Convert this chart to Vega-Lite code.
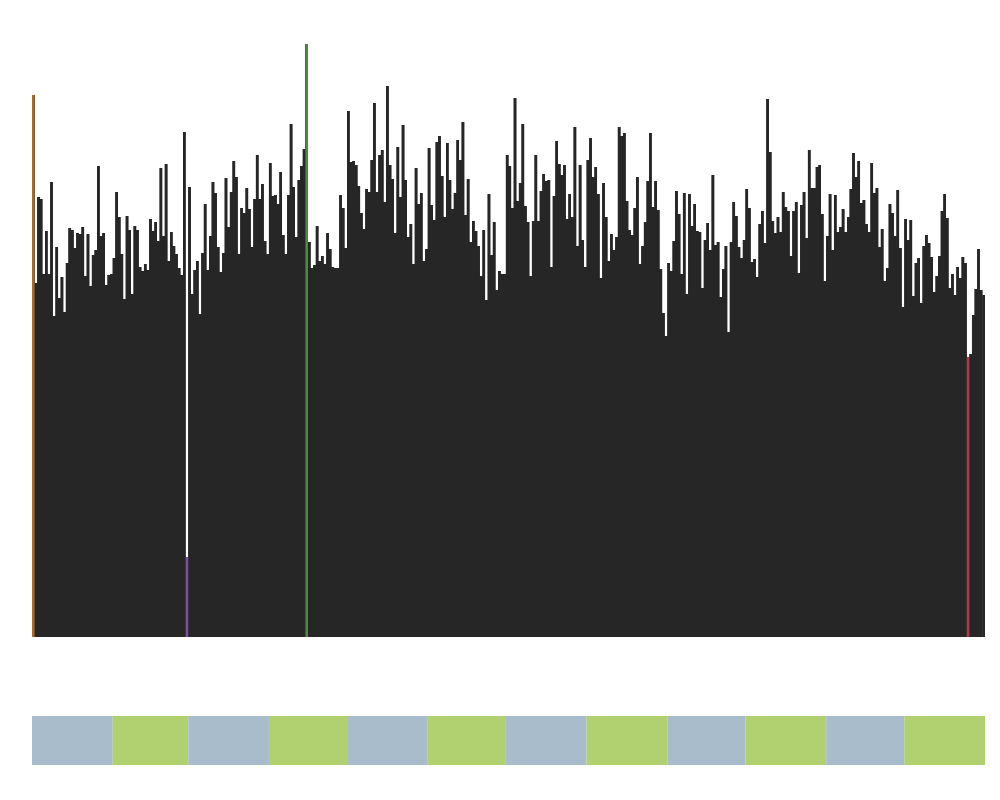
{
  "$schema": "https://vega.github.io/schema/vega-lite/v6.json",
  "background": "white",
  "padding": {"left": 32, "top": 40, "right": 15, "bottom": 35},
  "spacing": 79,
  "config": {"view": {"stroke": null}},
  "resolve": {"scale": {"fill": "independent"}},
  "datasets": {
    "days": [
      {"d":0,"e":1,"m":1,"v":542,"h":"jan1"},{"d":1,"e":2,"m":1,"v":354,"h":"n"},{"d":2,"e":3,"m":1,"v":440,"h":"n"},{"d":3,"e":4,"m":1,"v":438,"h":"n"},{"d":4,"e":5,"m":1,"v":363,"h":"n"},{"d":5,"e":6,"m":1,"v":406,"h":"n"},{"d":6,"e":7,"m":1,"v":363,"h":"n"},{"d":7,"e":8,"m":1,"v":455,"h":"n"},{"d":8,"e":9,"m":1,"v":321,"h":"n"},{"d":9,"e":10,"m":1,"v":390,"h":"n"},
      {"d":10,"e":11,"m":1,"v":339,"h":"n"},{"d":11,"e":12,"m":1,"v":360,"h":"n"},{"d":12,"e":13,"m":1,"v":325,"h":"n"},{"d":13,"e":14,"m":1,"v":374,"h":"n"},{"d":14,"e":15,"m":1,"v":409,"h":"n"},{"d":15,"e":16,"m":1,"v":407,"h":"n"},{"d":16,"e":17,"m":1,"v":389,"h":"n"},{"d":17,"e":18,"m":1,"v":404,"h":"n"},{"d":18,"e":19,"m":1,"v":403,"h":"n"},{"d":19,"e":20,"m":1,"v":410,"h":"n"},
      {"d":20,"e":21,"m":1,"v":361,"h":"n"},{"d":21,"e":22,"m":1,"v":403,"h":"n"},{"d":22,"e":23,"m":1,"v":351,"h":"n"},{"d":23,"e":24,"m":1,"v":382,"h":"n"},{"d":24,"e":25,"m":1,"v":387,"h":"n"},{"d":25,"e":26,"m":1,"v":471,"h":"n"},{"d":26,"e":27,"m":1,"v":401,"h":"n"},{"d":27,"e":28,"m":1,"v":404,"h":"n"},{"d":28,"e":29,"m":1,"v":352,"h":"n"},{"d":29,"e":30,"m":1,"v":362,"h":"n"},
      {"d":30,"e":31,"m":1,"v":363,"h":"n"},{"d":31,"e":32,"m":2,"v":379,"h":"n"},{"d":32,"e":33,"m":2,"v":445,"h":"n"},{"d":33,"e":34,"m":2,"v":420,"h":"n"},{"d":34,"e":35,"m":2,"v":383,"h":"n"},{"d":35,"e":36,"m":2,"v":338,"h":"n"},{"d":36,"e":37,"m":2,"v":421,"h":"n"},{"d":37,"e":38,"m":2,"v":407,"h":"n"},{"d":38,"e":39,"m":2,"v":343,"h":"n"},{"d":39,"e":40,"m":2,"v":411,"h":"n"},
      {"d":40,"e":41,"m":2,"v":407,"h":"n"},{"d":41,"e":42,"m":2,"v":370,"h":"n"},{"d":42,"e":43,"m":2,"v":366,"h":"n"},{"d":43,"e":44,"m":2,"v":373,"h":"n"},{"d":44,"e":45,"m":2,"v":367,"h":"n"},{"d":45,"e":46,"m":2,"v":418,"h":"n"},{"d":46,"e":47,"m":2,"v":406,"h":"n"},{"d":47,"e":48,"m":2,"v":415,"h":"n"},{"d":48,"e":49,"m":2,"v":396,"h":"n"},{"d":49,"e":50,"m":2,"v":469,"h":"n"},
      {"d":50,"e":51,"m":2,"v":401,"h":"n"},{"d":51,"e":52,"m":2,"v":473,"h":"n"},{"d":52,"e":53,"m":2,"v":376,"h":"n"},{"d":53,"e":54,"m":2,"v":405,"h":"n"},{"d":54,"e":55,"m":2,"v":391,"h":"n"},{"d":55,"e":56,"m":2,"v":383,"h":"n"},{"d":56,"e":57,"m":2,"v":369,"h":"n"},{"d":57,"e":58,"m":2,"v":362,"h":"n"},{"d":58,"e":59,"m":2,"v":505,"h":"n"},{"d":59,"e":60,"m":2,"v":80,"h":"feb29"},
      {"d":60,"e":61,"m":3,"v":450,"h":"n"},{"d":61,"e":62,"m":3,"v":343,"h":"n"},{"d":62,"e":63,"m":3,"v":367,"h":"n"},{"d":63,"e":64,"m":3,"v":376,"h":"n"},{"d":64,"e":65,"m":3,"v":323,"h":"n"},{"d":65,"e":66,"m":3,"v":384,"h":"n"},{"d":66,"e":67,"m":3,"v":433,"h":"n"},{"d":67,"e":68,"m":3,"v":367,"h":"n"},{"d":68,"e":69,"m":3,"v":401,"h":"n"},{"d":69,"e":70,"m":3,"v":455,"h":"n"},
      {"d":70,"e":71,"m":3,"v":444,"h":"n"},{"d":71,"e":72,"m":3,"v":390,"h":"n"},{"d":72,"e":73,"m":3,"v":365,"h":"n"},{"d":73,"e":74,"m":3,"v":384,"h":"n"},{"d":74,"e":75,"m":3,"v":459,"h":"n"},{"d":75,"e":76,"m":3,"v":410,"h":"n"},{"d":76,"e":77,"m":3,"v":445,"h":"n"},{"d":77,"e":78,"m":3,"v":476,"h":"n"},{"d":78,"e":79,"m":3,"v":460,"h":"n"},{"d":79,"e":80,"m":3,"v":383,"h":"n"},
      {"d":80,"e":81,"m":3,"v":429,"h":"n"},{"d":81,"e":82,"m":3,"v":424,"h":"n"},{"d":82,"e":83,"m":3,"v":449,"h":"n"},{"d":83,"e":84,"m":3,"v":428,"h":"n"},{"d":84,"e":85,"m":3,"v":390,"h":"n"},{"d":85,"e":86,"m":3,"v":438,"h":"n"},{"d":86,"e":87,"m":3,"v":482,"h":"n"},{"d":87,"e":88,"m":3,"v":438,"h":"n"},{"d":88,"e":89,"m":3,"v":453,"h":"n"},{"d":89,"e":90,"m":3,"v":396,"h":"n"},
      {"d":90,"e":91,"m":3,"v":383,"h":"n"},{"d":91,"e":92,"m":4,"v":474,"h":"n"},{"d":92,"e":93,"m":4,"v":441,"h":"n"},{"d":93,"e":94,"m":4,"v":442,"h":"n"},{"d":94,"e":95,"m":4,"v":433,"h":"n"},{"d":95,"e":96,"m":4,"v":465,"h":"n"},{"d":96,"e":97,"m":4,"v":402,"h":"n"},{"d":97,"e":98,"m":4,"v":383,"h":"n"},{"d":98,"e":99,"m":4,"v":442,"h":"n"},{"d":99,"e":100,"m":4,"v":513,"h":"n"},
      {"d":100,"e":101,"m":4,"v":450,"h":"n"},{"d":101,"e":102,"m":4,"v":400,"h":"n"},{"d":102,"e":103,"m":4,"v":457,"h":"n"},{"d":103,"e":104,"m":4,"v":471,"h":"n"},{"d":104,"e":105,"m":4,"v":488,"h":"n"},{"d":105,"e":106,"m":4,"v":593,"h":"apr15"},{"d":106,"e":107,"m":4,"v":395,"h":"n"},{"d":107,"e":108,"m":4,"v":369,"h":"n"},{"d":108,"e":109,"m":4,"v":372,"h":"n"},{"d":109,"e":110,"m":4,"v":411,"h":"n"},
      {"d":110,"e":111,"m":4,"v":376,"h":"n"},{"d":111,"e":112,"m":4,"v":381,"h":"n"},{"d":112,"e":113,"m":4,"v":373,"h":"n"},{"d":113,"e":114,"m":4,"v":404,"h":"n"},{"d":114,"e":115,"m":4,"v":388,"h":"n"},{"d":115,"e":116,"m":4,"v":370,"h":"n"},{"d":116,"e":117,"m":4,"v":369,"h":"n"},{"d":117,"e":118,"m":4,"v":369,"h":"n"},{"d":118,"e":119,"m":4,"v":442,"h":"n"},{"d":119,"e":120,"m":4,"v":429,"h":"n"},
      {"d":120,"e":121,"m":4,"v":389,"h":"n"},{"d":121,"e":122,"m":5,"v":526,"h":"n"},{"d":122,"e":123,"m":5,"v":475,"h":"n"},{"d":123,"e":124,"m":5,"v":476,"h":"n"},{"d":124,"e":125,"m":5,"v":472,"h":"n"},{"d":125,"e":126,"m":5,"v":451,"h":"n"},{"d":126,"e":127,"m":5,"v":424,"h":"n"},{"d":127,"e":128,"m":5,"v":408,"h":"n"},{"d":128,"e":129,"m":5,"v":448,"h":"n"},{"d":129,"e":130,"m":5,"v":445,"h":"n"},
      {"d":130,"e":131,"m":5,"v":477,"h":"n"},{"d":131,"e":132,"m":5,"v":534,"h":"n"},{"d":132,"e":133,"m":5,"v":445,"h":"n"},{"d":133,"e":134,"m":5,"v":482,"h":"n"},{"d":134,"e":135,"m":5,"v":487,"h":"n"},{"d":135,"e":136,"m":5,"v":435,"h":"n"},{"d":136,"e":137,"m":5,"v":551,"h":"n"},{"d":137,"e":138,"m":5,"v":472,"h":"n"},{"d":138,"e":139,"m":5,"v":458,"h":"n"},{"d":139,"e":140,"m":5,"v":404,"h":"n"},
      {"d":140,"e":141,"m":5,"v":490,"h":"n"},{"d":141,"e":142,"m":5,"v":440,"h":"n"},{"d":142,"e":143,"m":5,"v":512,"h":"n"},{"d":143,"e":144,"m":5,"v":457,"h":"n"},{"d":144,"e":145,"m":5,"v":400,"h":"n"},{"d":145,"e":146,"m":5,"v":413,"h":"n"},{"d":146,"e":147,"m":5,"v":373,"h":"n"},{"d":147,"e":148,"m":5,"v":469,"h":"n"},{"d":148,"e":149,"m":5,"v":433,"h":"n"},{"d":149,"e":150,"m":5,"v":444,"h":"n"},
      {"d":150,"e":151,"m":5,"v":376,"h":"n"},{"d":151,"e":152,"m":5,"v":388,"h":"n"},{"d":152,"e":153,"m":6,"v":489,"h":"n"},{"d":153,"e":154,"m":6,"v":432,"h":"n"},{"d":154,"e":155,"m":6,"v":417,"h":"n"},{"d":155,"e":156,"m":6,"v":495,"h":"n"},{"d":156,"e":157,"m":6,"v":501,"h":"n"},{"d":157,"e":158,"m":6,"v":461,"h":"n"},{"d":158,"e":159,"m":6,"v":420,"h":"n"},{"d":159,"e":160,"m":6,"v":494,"h":"n"},
      {"d":160,"e":161,"m":6,"v":457,"h":"n"},{"d":161,"e":162,"m":6,"v":428,"h":"n"},{"d":162,"e":163,"m":6,"v":444,"h":"n"},{"d":163,"e":164,"m":6,"v":497,"h":"n"},{"d":164,"e":165,"m":6,"v":477,"h":"n"},{"d":165,"e":166,"m":6,"v":515,"h":"n"},{"d":166,"e":167,"m":6,"v":422,"h":"n"},{"d":167,"e":168,"m":6,"v":458,"h":"n"},{"d":168,"e":169,"m":6,"v":395,"h":"n"},{"d":169,"e":170,"m":6,"v":416,"h":"n"},
      {"d":170,"e":171,"m":6,"v":406,"h":"n"},{"d":171,"e":172,"m":6,"v":391,"h":"n"},{"d":172,"e":173,"m":6,"v":361,"h":"n"},{"d":173,"e":174,"m":6,"v":407,"h":"n"},{"d":174,"e":175,"m":6,"v":337,"h":"n"},{"d":175,"e":176,"m":6,"v":443,"h":"n"},{"d":176,"e":177,"m":6,"v":382,"h":"n"},{"d":177,"e":178,"m":6,"v":415,"h":"n"},{"d":178,"e":179,"m":6,"v":347,"h":"n"},{"d":179,"e":180,"m":6,"v":366,"h":"n"},
      {"d":180,"e":181,"m":6,"v":363,"h":"n"},{"d":181,"e":182,"m":6,"v":363,"h":"n"},{"d":182,"e":183,"m":7,"v":482,"h":"n"},{"d":183,"e":184,"m":7,"v":471,"h":"n"},{"d":184,"e":185,"m":7,"v":429,"h":"n"},{"d":185,"e":186,"m":7,"v":539,"h":"n"},{"d":186,"e":187,"m":7,"v":436,"h":"n"},{"d":187,"e":188,"m":7,"v":454,"h":"n"},{"d":188,"e":189,"m":7,"v":513,"h":"n"},{"d":189,"e":190,"m":7,"v":431,"h":"n"},
      {"d":190,"e":191,"m":7,"v":415,"h":"n"},{"d":191,"e":192,"m":7,"v":361,"h":"n"},{"d":192,"e":193,"m":7,"v":416,"h":"n"},{"d":193,"e":194,"m":7,"v":482,"h":"n"},{"d":194,"e":195,"m":7,"v":416,"h":"n"},{"d":195,"e":196,"m":7,"v":446,"h":"n"},{"d":196,"e":197,"m":7,"v":463,"h":"n"},{"d":197,"e":198,"m":7,"v":456,"h":"n"},{"d":198,"e":199,"m":7,"v":457,"h":"n"},{"d":199,"e":200,"m":7,"v":370,"h":"n"},
      {"d":200,"e":201,"m":7,"v":441,"h":"n"},{"d":201,"e":202,"m":7,"v":496,"h":"n"},{"d":202,"e":203,"m":7,"v":473,"h":"n"},{"d":203,"e":204,"m":7,"v":462,"h":"n"},{"d":204,"e":205,"m":7,"v":472,"h":"n"},{"d":205,"e":206,"m":7,"v":418,"h":"n"},{"d":206,"e":207,"m":7,"v":443,"h":"n"},{"d":207,"e":208,"m":7,"v":420,"h":"n"},{"d":208,"e":209,"m":7,"v":510,"h":"n"},{"d":209,"e":210,"m":7,"v":391,"h":"n"},
      {"d":210,"e":211,"m":7,"v":472,"h":"n"},{"d":211,"e":212,"m":7,"v":397,"h":"n"},{"d":212,"e":213,"m":7,"v":370,"h":"n"},{"d":213,"e":214,"m":8,"v":477,"h":"n"},{"d":214,"e":215,"m":8,"v":499,"h":"n"},{"d":215,"e":216,"m":8,"v":460,"h":"n"},{"d":216,"e":217,"m":8,"v":470,"h":"n"},{"d":217,"e":218,"m":8,"v":443,"h":"n"},{"d":218,"e":219,"m":8,"v":359,"h":"n"},{"d":219,"e":220,"m":8,"v":454,"h":"n"},
      {"d":220,"e":221,"m":8,"v":420,"h":"n"},{"d":221,"e":222,"m":8,"v":376,"h":"n"},{"d":222,"e":223,"m":8,"v":403,"h":"n"},{"d":223,"e":224,"m":8,"v":387,"h":"n"},{"d":224,"e":225,"m":8,"v":400,"h":"n"},{"d":225,"e":226,"m":8,"v":510,"h":"n"},{"d":226,"e":227,"m":8,"v":501,"h":"n"},{"d":227,"e":228,"m":8,"v":504,"h":"n"},{"d":228,"e":229,"m":8,"v":436,"h":"n"},{"d":229,"e":230,"m":8,"v":407,"h":"n"},
      {"d":230,"e":231,"m":8,"v":402,"h":"n"},{"d":231,"e":232,"m":8,"v":429,"h":"n"},{"d":232,"e":233,"m":8,"v":460,"h":"n"},{"d":233,"e":234,"m":8,"v":373,"h":"n"},{"d":234,"e":235,"m":8,"v":391,"h":"n"},{"d":235,"e":236,"m":8,"v":415,"h":"n"},{"d":236,"e":237,"m":8,"v":456,"h":"n"},{"d":237,"e":238,"m":8,"v":504,"h":"n"},{"d":238,"e":239,"m":8,"v":430,"h":"n"},{"d":239,"e":240,"m":8,"v":456,"h":"n"},
      {"d":240,"e":241,"m":8,"v":427,"h":"n"},{"d":241,"e":242,"m":8,"v":368,"h":"n"},{"d":242,"e":243,"m":8,"v":324,"h":"n"},{"d":243,"e":244,"m":8,"v":301,"h":"n"},{"d":244,"e":245,"m":9,"v":374,"h":"n"},{"d":245,"e":246,"m":9,"v":366,"h":"n"},{"d":246,"e":247,"m":9,"v":396,"h":"n"},{"d":247,"e":248,"m":9,"v":446,"h":"n"},{"d":248,"e":249,"m":9,"v":423,"h":"n"},{"d":249,"e":250,"m":9,"v":363,"h":"n"},
      {"d":250,"e":251,"m":9,"v":444,"h":"n"},{"d":251,"e":252,"m":9,"v":343,"h":"n"},{"d":252,"e":253,"m":9,"v":443,"h":"n"},{"d":253,"e":254,"m":9,"v":411,"h":"n"},{"d":254,"e":255,"m":9,"v":433,"h":"n"},{"d":255,"e":256,"m":9,"v":406,"h":"n"},{"d":256,"e":257,"m":9,"v":405,"h":"n"},{"d":257,"e":258,"m":9,"v":349,"h":"n"},{"d":258,"e":259,"m":9,"v":397,"h":"n"},{"d":259,"e":260,"m":9,"v":414,"h":"n"},
      {"d":260,"e":261,"m":9,"v":387,"h":"n"},{"d":261,"e":262,"m":9,"v":462,"h":"n"},{"d":262,"e":263,"m":9,"v":392,"h":"n"},{"d":263,"e":264,"m":9,"v":395,"h":"n"},{"d":264,"e":265,"m":9,"v":340,"h":"n"},{"d":265,"e":266,"m":9,"v":368,"h":"n"},{"d":266,"e":267,"m":9,"v":391,"h":"n"},{"d":267,"e":268,"m":9,"v":305,"h":"n"},{"d":268,"e":269,"m":9,"v":395,"h":"n"},{"d":269,"e":270,"m":9,"v":435,"h":"n"},
      {"d":270,"e":271,"m":9,"v":421,"h":"n"},{"d":271,"e":272,"m":9,"v":390,"h":"n"},{"d":272,"e":273,"m":9,"v":379,"h":"n"},{"d":273,"e":274,"m":9,"v":397,"h":"n"},{"d":274,"e":275,"m":10,"v":448,"h":"n"},{"d":275,"e":276,"m":10,"v":429,"h":"n"},{"d":276,"e":277,"m":10,"v":375,"h":"n"},{"d":277,"e":278,"m":10,"v":378,"h":"n"},{"d":278,"e":279,"m":10,"v":360,"h":"n"},{"d":279,"e":280,"m":10,"v":413,"h":"n"},
      {"d":280,"e":281,"m":10,"v":426,"h":"n"},{"d":281,"e":282,"m":10,"v":394,"h":"n"},{"d":282,"e":283,"m":10,"v":538,"h":"n"},{"d":283,"e":284,"m":10,"v":485,"h":"n"},{"d":284,"e":285,"m":10,"v":416,"h":"n"},{"d":285,"e":286,"m":10,"v":404,"h":"n"},{"d":286,"e":287,"m":10,"v":420,"h":"n"},{"d":287,"e":288,"m":10,"v":405,"h":"n"},{"d":288,"e":289,"m":10,"v":445,"h":"n"},{"d":289,"e":290,"m":10,"v":430,"h":"n"},
      {"d":290,"e":291,"m":10,"v":426,"h":"n"},{"d":291,"e":292,"m":10,"v":381,"h":"n"},{"d":292,"e":293,"m":10,"v":426,"h":"n"},{"d":293,"e":294,"m":10,"v":435,"h":"n"},{"d":294,"e":295,"m":10,"v":364,"h":"n"},{"d":295,"e":296,"m":10,"v":432,"h":"n"},{"d":296,"e":297,"m":10,"v":445,"h":"n"},{"d":297,"e":298,"m":10,"v":399,"h":"n"},{"d":298,"e":299,"m":10,"v":487,"h":"n"},{"d":299,"e":300,"m":10,"v":449,"h":"n"},
      {"d":300,"e":301,"m":10,"v":449,"h":"n"},{"d":301,"e":302,"m":10,"v":470,"h":"n"},{"d":302,"e":303,"m":10,"v":472,"h":"n"},{"d":303,"e":304,"m":10,"v":423,"h":"n"},{"d":304,"e":305,"m":10,"v":356,"h":"n"},{"d":305,"e":306,"m":11,"v":401,"h":"n"},{"d":306,"e":307,"m":11,"v":443,"h":"n"},{"d":307,"e":308,"m":11,"v":387,"h":"n"},{"d":308,"e":309,"m":11,"v":442,"h":"n"},{"d":309,"e":310,"m":11,"v":405,"h":"n"},
      {"d":310,"e":311,"m":11,"v":410,"h":"n"},{"d":311,"e":312,"m":11,"v":428,"h":"n"},{"d":312,"e":313,"m":11,"v":405,"h":"n"},{"d":313,"e":314,"m":11,"v":420,"h":"n"},{"d":314,"e":315,"m":11,"v":448,"h":"n"},{"d":315,"e":316,"m":11,"v":484,"h":"n"},{"d":316,"e":317,"m":11,"v":460,"h":"n"},{"d":317,"e":318,"m":11,"v":476,"h":"n"},{"d":318,"e":319,"m":11,"v":434,"h":"n"},{"d":319,"e":320,"m":11,"v":437,"h":"n"},
      {"d":320,"e":321,"m":11,"v":413,"h":"n"},{"d":321,"e":322,"m":11,"v":405,"h":"n"},{"d":322,"e":323,"m":11,"v":474,"h":"n"},{"d":323,"e":324,"m":11,"v":444,"h":"n"},{"d":324,"e":325,"m":11,"v":449,"h":"n"},{"d":325,"e":326,"m":11,"v":390,"h":"n"},{"d":326,"e":327,"m":11,"v":408,"h":"n"},{"d":327,"e":328,"m":11,"v":356,"h":"n"},{"d":328,"e":329,"m":11,"v":369,"h":"n"},{"d":329,"e":330,"m":11,"v":433,"h":"n"},
      {"d":330,"e":331,"m":11,"v":424,"h":"n"},{"d":331,"e":332,"m":11,"v":401,"h":"n"},{"d":332,"e":333,"m":11,"v":447,"h":"n"},{"d":333,"e":334,"m":11,"v":389,"h":"n"},{"d":334,"e":335,"m":11,"v":330,"h":"n"},{"d":335,"e":336,"m":12,"v":418,"h":"n"},{"d":336,"e":337,"m":12,"v":397,"h":"n"},{"d":337,"e":338,"m":12,"v":417,"h":"n"},{"d":338,"e":339,"m":12,"v":341,"h":"n"},{"d":339,"e":340,"m":12,"v":374,"h":"n"},
      {"d":340,"e":341,"m":12,"v":379,"h":"n"},{"d":341,"e":342,"m":12,"v":334,"h":"n"},{"d":342,"e":343,"m":12,"v":391,"h":"n"},{"d":343,"e":344,"m":12,"v":402,"h":"n"},{"d":344,"e":345,"m":12,"v":394,"h":"n"},{"d":345,"e":346,"m":12,"v":380,"h":"n"},{"d":346,"e":347,"m":12,"v":345,"h":"n"},{"d":347,"e":348,"m":12,"v":361,"h":"n"},{"d":348,"e":349,"m":12,"v":381,"h":"n"},{"d":349,"e":350,"m":12,"v":426,"h":"n"},
      {"d":350,"e":351,"m":12,"v":443,"h":"n"},{"d":351,"e":352,"m":12,"v":419,"h":"n"},{"d":352,"e":353,"m":12,"v":349,"h":"n"},{"d":353,"e":354,"m":12,"v":363,"h":"n"},{"d":354,"e":355,"m":12,"v":342,"h":"n"},{"d":355,"e":356,"m":12,"v":370,"h":"n"},{"d":356,"e":357,"m":12,"v":359,"h":"n"},{"d":357,"e":358,"m":12,"v":380,"h":"n"},{"d":358,"e":359,"m":12,"v":374,"h":"n"},{"d":359,"e":360,"m":12,"v":280,"h":"dec25"},
      {"d":360,"e":361,"m":12,"v":283,"h":"n"},{"d":361,"e":362,"m":12,"v":322,"h":"n"},{"d":362,"e":363,"m":12,"v":348,"h":"n"},{"d":363,"e":364,"m":12,"v":388,"h":"n"},{"d":364,"e":365,"m":12,"v":347,"h":"n"},{"d":365,"e":366,"m":12,"v":342,"h":"n"}
    ]
  },
  "vconcat": [
    {
      "width": 953,
      "height": 597,
      "data": {"name": "days"},
      "encoding": {
        "x": {"field": "d", "type": "quantitative", "scale": {"domain": [0, 366], "nice": false, "zero": false}, "axis": null},
        "y": {"field": "v", "type": "quantitative", "scale": {"domain": [0, 597], "nice": false}, "axis": null, "stack": null}
      },
      "layer": [
        {
          "mark": {"type": "rect", "color": "#262626"},
          "encoding": {"x2": {"field": "e"}, "y2": {"datum": 0}}
        },
        {
          "mark": {"type": "area", "interpolate": "step-after", "color": "#262626"},
          "encoding": {}
        },
        {
          "transform": [{"filter": "datum.h !== 'n' || datum.d === 365"}],
          "mark": {"type": "rect"},
          "encoding": {
            "x2": {"field": "e"},
            "y2": {"datum": 0},
            "fill": {"field": "h", "type": "nominal", "scale": {"domain": ["n", "jan1", "feb29", "apr15", "dec25"], "range": ["#262626", "#a86c2a", "#7b4f9d", "#4a8c3f", "#b03848"]}, "legend": null}
          }
        }
      ]
    },
    {
      "width": 953,
      "height": 49,
      "data": {"name": "days"},
      "mark": {"type": "rect"},
      "encoding": {
        "x": {"aggregate": "min", "field": "d", "type": "quantitative", "scale": {"domain": [0, 366], "nice": false, "zero": false}, "axis": null},
        "x2": {"aggregate": "max", "field": "e"},
        "fill": {"field": "m", "type": "ordinal", "scale": {"domain": [1,2,3,4,5,6,7,8,9,10,11,12], "range": ["#a9bccb", "#b1d06f", "#a9bccb", "#b1d06f", "#a9bccb", "#b1d06f", "#a9bccb", "#b1d06f", "#a9bccb", "#b1d06f", "#a9bccb", "#b1d06f"]}, "legend": null}
      }
    }
  ]
}
